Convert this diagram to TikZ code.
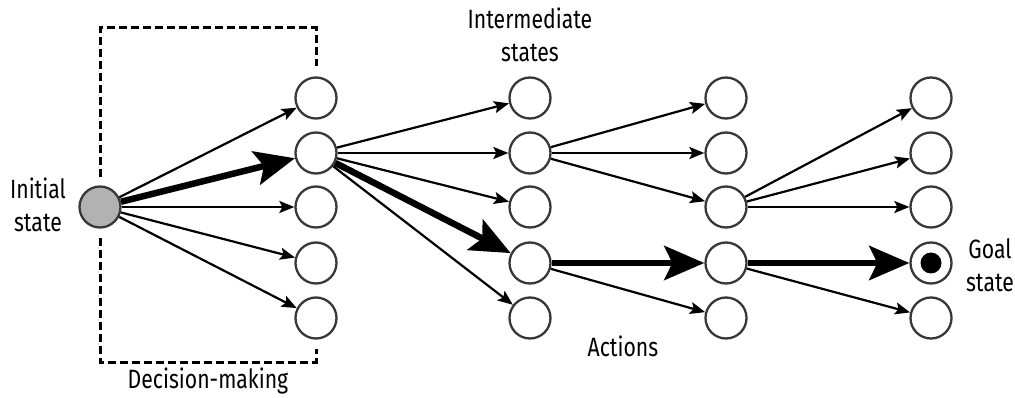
\documentclass[tikz,border=0pt]{standalone}
\usepackage{fontspec}
\setmainfont{Fira Sans}[FakeStretch=0.8]
\usetikzlibrary{arrows.meta,calc}
\begin{document}
\begin{tikzpicture}[x=1pt,y=-1pt,
  state/.style={circle,draw=black!78,line width=2.3pt,minimum size=41pt,inner sep=0pt,fill=white},
  actarrow/.style={-{Stealth[length=15pt,width=12pt,inset=3pt]},line width=2.2pt},
  bestarrow/.style={-{Stealth[length=40pt,width=34pt,inset=8pt]},line width=6.5pt},
  lbl/.style={font=\fontsize{26.5}{33}\selectfont,align=center,inner sep=0pt},
  boxline/.style={dash pattern=on 8pt off 4pt,line width=3pt}
]
\useasboundingbox (0,0) rectangle (1015,398);
% nodes
\node[state,fill=black!30] (init) at (100,207) {};
\foreach \c/\x in {1/316,2/530,3/726,4/931}{
  \foreach \r/\y in {a/98,b/153,c/207,d/263,e/318}{
    \node[state] (c\c\r) at (\x,\y) {};
  }
}
\fill (c4d.center) circle (10.5pt);
% decision box
\draw[boxline] ($(init.north)+(0,-8)$) -- (100,28) -- (316,28) -- ($(c1a.north)+(0,-10)$);
\draw[boxline] ($(init.south)+(0,9)$) -- (100,362) -- (316,362) -- ($(c1e.south)+(0,9)$);
% edges
\draw[actarrow] (init) -- (c1a);
\draw[bestarrow] (init) -- (c1b);
\draw[actarrow] (init) -- (c1c);
\draw[actarrow] (init) -- (c1d);
\draw[actarrow] (init) -- (c1e);
\draw[actarrow] (c1b) -- (c2a);
\draw[actarrow] (c1b) -- (c2b);
\draw[actarrow] (c1b) -- (c2c);
\draw[bestarrow] (c1b) -- (c2d);
\draw[actarrow] (c1b) -- (c2e);
\draw[actarrow] (c2b) -- (c3a);
\draw[actarrow] (c2b) -- (c3b);
\draw[actarrow] (c2b) -- (c3c);
\draw[bestarrow] (c2d) -- (c3d);
\draw[actarrow] (c2d) -- (c3e);
\draw[actarrow] (c3c) -- (c4a);
\draw[actarrow] (c3c) -- (c4b);
\draw[actarrow] (c3c) -- (c4c);
\draw[bestarrow] (c3d) -- (c4d);
\draw[actarrow] (c3d) -- (c4e);
% labels
\node[lbl] (linit) at (38,205) {Initial\\state};
\node[lbl] (ldec) at (208,381) {Decision-making};
\node[lbl] (linter) at (530,35) {Intermediate\\states};
\node[lbl] (lact) at (623,346) {Actions};
\node[lbl] (lgoal) at (990,265) {Goal\\state};
\end{tikzpicture}
\end{document}
